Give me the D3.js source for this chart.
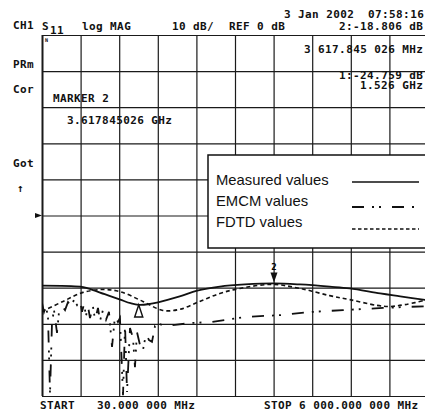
<!DOCTYPE html>
<html><head><meta charset="utf-8">
<script src="https://cdn.jsdelivr.net/npm/d3@7"></script>
<style>
html,body{margin:0;padding:0;background:#fff;}
svg{display:block;}
.mono{font-family:"DejaVu Sans Mono",monospace;font-weight:bold;font-size:11px;letter-spacing:0.4px;fill:#111;}
.leg{font-family:"Liberation Sans",Arial,sans-serif;font-size:14.8px;fill:#111;}
</style></head>
<body>
<script>
// ---- data ----
const startMHz = 30, stopMHz = 6000;
const dbTop = 50, dbBottom = -50;
const xDivisions = 10, yDivisions = 10;

const measuredFreq = [30, 620, 740, 1000, 1240, 1400, 1526, 1700, 1810, 2160, 2430, 2780, 3170, 3618, 4020, 4480, 4790, 5260, 5570, 6000];
const measuredDb   = [-19.4, -19.7, -20.2, -21.8, -23.3, -24.3, -24.76, -24.5, -24.1, -22.4, -20.8, -19.7, -19.1, -18.81, -19.1, -19.7, -20.2, -21.6, -22.4, -23.5];

const fdtdFreq = [30, 355, 665, 975, 1240, 1590, 1900, 2160, 2470, 2780, 3090, 3590, 4020, 4480, 4790, 5210, 5410, 5640, 6000];
const fdtdDb   = [-26.6, -23.8, -21.3, -20.5, -21.1, -23.8, -26.3, -26.0, -23.8, -21.6, -20.2, -19.1, -20.2, -22.2, -23.3, -24.9, -25.2, -24.7, -23.3];

const emcmFreq = [30, 61, 92, 123, 154, 185, 216, 262, 293, 339, 386, 432, 479, 525, 571, 618, 649, 680, 711, 741, 772, 819, 850, 896, 927, 973, 1020, 1066, 1113, 1159, 1205, 1236, 1283, 1314, 1345, 1391, 1437, 1468, 1499, 1546, 1592, 1638, 1685, 1731, 1778, 1855, 1932, 2087, 2319, 2659, 3170, 3711, 4206, 4685, 5304, 6000];
const emcmDb   = [-24.2, -26.7, -25.1, -28.4, -49.3, -29.5, -26.2, -32.5, -26.7, -25.1, -26.2, -24.0, -25.1, -23.4, -24.8, -23.4, -26.7, -24.5, -27.8, -25.1, -28.4, -25.3, -28.9, -25.6, -29.2, -26.2, -28.9, -26.7, -36.4, -27.8, -29.5, -28.4, -49.8, -30.3, -48.9, -31.2, -33.9, -42.0, -32.3, -35.9, -37.3, -32.8, -34.5, -35.0, -30.6, -30.1, -30.6, -30.3, -29.8, -29.5, -28.1, -27.6, -26.7, -26.2, -25.6, -25.1];

const markerFreq = [1526, 3617.845];
const markerDb = [-24.759, -18.806];

const legendLabels = ["Measured values", "EMCM values", "FDTD values"];

const headerLine1 = ["3 Jan 2002", "07:58:16"];
const headerLine2 = ["CH1", "S", "11", "log MAG", "10 dB/", "REF 0 dB", "2:-18.806 dB"];
const markerReadouts = ["3 617.845 026 MHz", "1:-24.759 dB", "1.526 GHz", "MARKER 2", "3.617845026 GHz"];
const sideLabels = ["PRm", "Cor", "Got", "↑"];
const footer = ["START", "30.000 000 MHz", "STOP 6 000.000 000 MHz"];

// ---- drawing ----
const W = 425, H = 414;
const plot = {left: 42, right: 428, top: 35, bottom: 396};
const svg = d3.select("body").append("svg").attr("width", W).attr("height", H);
svg.append("rect").attr("width", W).attr("height", H).attr("fill", "#fff");

const x = d3.scaleLinear().domain([startMHz, stopMHz]).range([plot.left, plot.right]);
const y = d3.scaleLinear().domain([dbTop, dbBottom]).range([plot.top, plot.bottom]);

svg.append("defs").append("clipPath").attr("id", "clip")
  .append("rect").attr("x", plot.left).attr("y", plot.top)
  .attr("width", plot.right - plot.left).attr("height", plot.bottom - plot.top);

// grid via axes
const xGridVals = d3.range(xDivisions + 1).map(i => startMHz + i * (stopMHz - startMHz) / xDivisions);
const yGridVals = d3.range(yDivisions + 1).map(i => dbTop - i * (dbTop - dbBottom) / yDivisions);

const gx = svg.append("g").attr("transform", `translate(0,${plot.bottom})`)
  .call(d3.axisBottom(x).tickValues(xGridVals).tickSize(-(plot.bottom - plot.top)).tickFormat(""));
const gy = svg.append("g").attr("transform", `translate(${plot.left},0)`)
  .call(d3.axisLeft(y).tickValues(yGridVals).tickSize(-(plot.right - plot.left)).tickFormat(""));
[gx, gy].forEach(g => {
  g.select(".domain").remove();
  g.selectAll(".tick line").attr("stroke", "#1a1a1a").attr("stroke-width", 1.2);
});
gx.selectAll(".tick line").filter(d => d === startMHz).attr("stroke-width", 2);

// reference marker at 0 dB
svg.append("path")
  .attr("d", `M${plot.left - 7},${y(0) - 2.5} L${plot.left},${y(0)} L${plot.left - 7},${y(0) + 2.5} Z`)
  .attr("fill", "#111");

// traces
const toPts = (fs, ds) => fs.map((f, i) => [x(f), y(ds[i])]);
const g = svg.append("g").attr("clip-path", "url(#clip)");
const smooth = d3.line().curve(d3.curveCatmullRom.alpha(0.5));
const straight = d3.line();

g.append("path").attr("d", smooth(toPts(fdtdFreq, fdtdDb)))
  .attr("fill", "none").attr("stroke", "#111").attr("stroke-width", 1.6)
  .attr("stroke-dasharray", "4,3");
g.append("path").attr("d", straight(toPts(emcmFreq, emcmDb)))
  .attr("fill", "none").attr("stroke", "#111").attr("stroke-width", 1.8)
  .attr("stroke-dasharray", "12,8,2,5,2,11");
g.append("path").attr("d", smooth(toPts(measuredFreq, measuredDb)))
  .attr("fill", "none").attr("stroke", "#111").attr("stroke-width", 1.8);

// marker 1 (hollow up-triangle below trace)
{
  const mx = x(markerFreq[0]), my = y(markerDb[0]);
  svg.append("path").attr("d", `M${mx},${my} L${mx - 4},${my + 12} L${mx + 4},${my + 12} Z`)
    .attr("fill", "#fff").attr("stroke", "#111").attr("stroke-width", 1.5);
}
// marker 2 (filled down-triangle above trace, with label)
{
  const mx = x(markerFreq[1]), my = y(markerDb[1]);
  svg.append("path").attr("d", `M${mx},${my - 1} L${mx - 3.5},${my - 11} L${mx + 3.5},${my - 11} Z`)
    .attr("fill", "#111");
  svg.append("text").attr("x", mx).attr("y", my - 13).attr("text-anchor", "middle")
    .attr("font-family", "DejaVu Sans Mono").attr("font-weight", "bold").attr("font-size", 9).text("2");
}

// legend
const lg = svg.append("g");
lg.append("rect").attr("x", 208).attr("y", 155).attr("width", 230).attr("height", 93)
  .attr("fill", "#fff").attr("stroke", "#111").attr("stroke-width", 1.5);
const legY = [185, 206, 227];
const legStyle = [
  {dash: null, w: 1.5},
  {dash: "12,8,2,5,2,11", w: 2},
  {dash: "3.5,2.5", w: 1.5}
];
legendLabels.forEach((lab, i) => {
  lg.append("text").attr("class", "leg").attr("x", 216).attr("y", legY[i]).text(lab);
  const ly = [182, 207, 229][i];
  const ln = lg.append("line").attr("x1", 352).attr("x2", 419).attr("y1", ly).attr("y2", ly)
    .attr("stroke", "#111").attr("stroke-width", legStyle[i].w);
  if (legStyle[i].dash) ln.attr("stroke-dasharray", legStyle[i].dash);
});

// header text
const T = (txt, tx, ty) => svg.append("text").attr("class", "mono").attr("x", tx).attr("y", ty).text(txt);
T(headerLine1[0], 284, 18);
T(headerLine1[1], 368, 18);
T(headerLine2[0], 13, 29);
T(headerLine2[1], 42, 30).attr("font-size", 12.5);
T(headerLine2[2], 50, 34).attr("font-size", 10);
T(headerLine2[3], 82, 30);
T(headerLine2[4], 172, 30);
T(headerLine2[5], 229, 30);
T(headerLine2[6], 339, 30);

T(markerReadouts[0], 304, 53);
T(markerReadouts[1], 339, 79);
T(markerReadouts[2], 360, 89);
T(markerReadouts[3], 53, 102).attr("letter-spacing", 0);
T(markerReadouts[4], 67, 124);

T(sideLabels[0], 13, 68).attr("font-size", 10).attr("letter-spacing", 0);
T(sideLabels[1], 13, 93).attr("font-size", 10).attr("letter-spacing", 0);
T(sideLabels[2], 13, 167).attr("font-size", 10).attr("letter-spacing", 0);
T(sideLabels[3], 17, 192).attr("font-size", 11).attr("letter-spacing", 0);

svg.append("text").attr("x", 45).attr("y", 42).attr("font-family", "DejaVu Sans Mono")
  .attr("font-weight", "bold").attr("font-size", 5).text("N");

T(footer[0], 40, 409);
T(footer[1], 97, 409);
T(footer[2], 264, 409);
</script>
</body></html>
